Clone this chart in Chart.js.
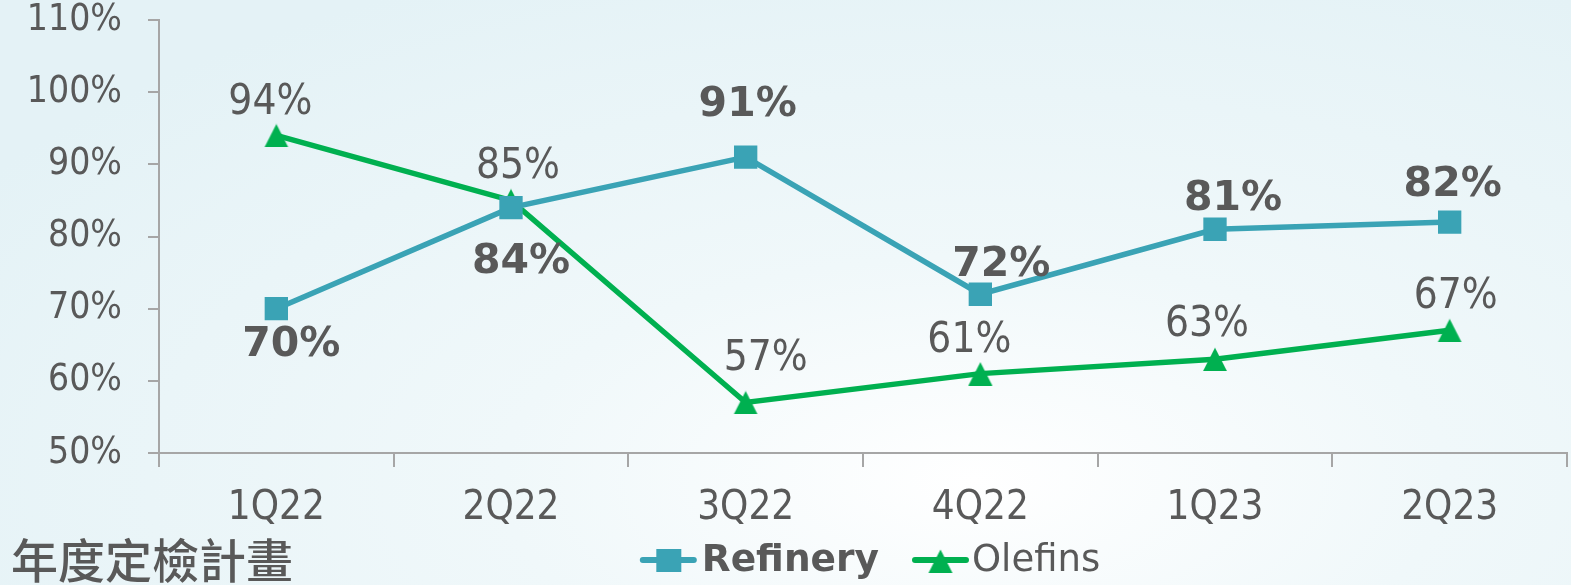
<!DOCTYPE html>
<html>
<head>
<meta charset="utf-8">
<script src="https://cdn.jsdelivr.net/npm/chart.js@4/dist/chart.umd.min.js"></script>
<style>
  html, body { margin: 0; padding: 0; }
  body {
    width: 1571px; height: 585px; overflow: hidden;
    background: radial-gradient(ellipse 75% 95% at 62% 82%, #ffffff 0%, #f0f8fa 40%, #e4f2f6 100%);
  }
  #wrap { position: relative; width: 1571px; height: 585px; }
</style>
</head>
<body>
<div id="wrap"><canvas id="grafica"></canvas></div>
<script>
//Datos
const categorias = ["1Q22", "2Q22", "3Q22", "4Q22", "1Q23", "2Q23"];
const refinery = [70, 84, 91, 72, 81, 82];
const olefins = [94, 85, 57, 61, 63, 67];
const ticksY = [50, 60, 70, 80, 90, 100, 110];

const colorTexto = "#595959";
const colorGris = "#a6a6a6";
const colorRefinery = "#3aa3b5";
const colorOlefins = "#00b050";
const fuente = "'DejaVu Sans Condensed', 'DejaVu Sans', sans-serif";

//Desplazamiento de etiquetas (px) respecto al punto
const etiquetasRefinery = { dx: [15, 10, 2, 21, 18, 3], dy: [37, 55, -52, -29, -30, -37] };
const etiquetasOlefins = { dx: [-6, 7, 20, -11, -8, 6], dy: [-32, -33, -43, -33, -34, -33] };

//Marcador triangulo (centrado como en Excel)
const triangulo = document.createElement("canvas");
triangulo.width = 26;
triangulo.height = 24;
const tctx = triangulo.getContext("2d");
tctx.fillStyle = colorOlefins;
tctx.beginPath();
tctx.moveTo(13, 0.5);
tctx.lineTo(25, 24);
tctx.lineTo(1, 24);
tctx.closePath();
tctx.fill();

//Plugin etiquetas de datos + leyenda + titulo
const pluginEtiquetas = {
  id: "etiquetas",
  afterDatasetsDraw(chart) {
    const ctx = chart.ctx;
    ctx.save();
    ctx.textAlign = "center";
    ctx.textBaseline = "middle";
    ctx.fillStyle = colorTexto;
    chart.data.datasets.forEach((ds, i) => {
      const meta = chart.getDatasetMeta(i);
      const off = ds.etiquetas;
      ctx.font = ds.negrita ? "bold 41px 'DejaVu Sans', sans-serif" : "42px " + fuente;
      meta.data.forEach((p, j) => {
        ctx.fillText(ds.data[j] + "%", p.x + off.dx[j], p.y + off.dy[j]);
      });
    });
    ctx.restore();
  },
  afterDraw(chart) {
    const ctx = chart.ctx;
    const area = chart.chartArea;
    ctx.save();
    //Titulo
    ctx.fillStyle = colorTexto;
    ctx.textBaseline = "middle";
    ctx.textAlign = "left";
    ctx.font = "500 47px 'Noto Sans CJK TC', sans-serif";
    ctx.fillText("年度定檢計畫", 11, 560);

    //Leyenda
    const y = 560;
    const simbolo = 57;
    const fuenteRef = "bold 37.5px 'DejaVu Sans', sans-serif";
    const fuenteOle = "37px 'DejaVu Sans', sans-serif";
    ctx.font = fuenteRef;
    const w1 = ctx.measureText("Refinery").width;
    ctx.font = fuenteOle;
    const w2 = ctx.measureText("Olefins").width;
    const total = simbolo + 5 + w1 + 33 + simbolo + 3 + w2;
    let x = (area.left + area.right) / 2 + 7 - total / 2;

    ctx.lineCap = "round";
    ctx.lineWidth = 6;
    ctx.strokeStyle = colorRefinery;
    ctx.beginPath(); ctx.moveTo(x + 3, y); ctx.lineTo(x + simbolo - 3, y); ctx.stroke();
    ctx.fillStyle = colorRefinery;
    ctx.fillRect(x + simbolo / 2 - 12, y - 11, 25, 23);
    x += simbolo + 5;
    ctx.fillStyle = colorTexto;
    ctx.font = fuenteRef;
    ctx.fillText("Refinery", x, y + 1);
    x += w1 + 33;

    ctx.strokeStyle = colorOlefins;
    ctx.beginPath(); ctx.moveTo(x + 3, y); ctx.lineTo(x + simbolo - 3, y); ctx.stroke();
    ctx.drawImage(triangulo, x + simbolo / 2 - 13, y - 11);
    x += simbolo + 3;
    ctx.fillStyle = colorTexto;
    ctx.font = fuenteOle;
    ctx.fillText("Olefins", x, y + 1);
    ctx.restore();
  }
};

const grafica = document.getElementById("grafica");

new Chart(grafica, {
  type: "line",
  data: {
    labels: categorias,
    datasets: [
      {
        label: "Refinery",
        data: refinery,
        borderColor: colorRefinery,
        backgroundColor: colorRefinery,
        borderWidth: 5.5,
        pointStyle: "rect",
        pointRadius: 16.5,
        pointHoverRadius: 16.5,
        pointBorderWidth: 0,
        tension: 0,
        negrita: true,
        etiquetas: etiquetasRefinery,
      },
      {
        label: "Olefins",
        data: olefins,
        borderColor: colorOlefins,
        backgroundColor: colorOlefins,
        borderWidth: 5.5,
        pointStyle: triangulo,
        pointRadius: 13,
        pointHoverRadius: 13,
        pointBorderWidth: 0,
        tension: 0,
        negrita: false,
        etiquetas: etiquetasOlefins,
      },
    ],
  },
  options: {
    responsive: true,
    maintainAspectRatio: false,
    animation: false,
    events: [],
    layout: { autoPadding: false, padding: { top: 20, right: 4, left: 0, bottom: 0 } },
    plugins: {
      legend: { display: false },
      tooltip: { enabled: false },
    },
    scales: {
      x: {
        offset: true,
        afterFit: (s) => { s.height = 132; s.paddingLeft = 0; s.paddingRight = 0; },
        grid: { display: true, drawOnChartArea: false, offset: true, color: colorGris, lineWidth: 2, tickLength: 14 },
        border: { color: colorGris, width: 2 },
        ticks: { color: colorTexto, font: { family: fuente, size: 40 }, padding: 18, maxRotation: 0 },
      },
      y: {
        min: ticksY[0],
        max: ticksY[ticksY.length - 1],
        afterFit: (s) => { s.width = 159; s.paddingTop = 0; s.paddingBottom = 0; },
        afterBuildTicks: (s) => { s.ticks = ticksY.map((v) => ({ value: v })); },
        grid: { display: true, drawOnChartArea: false, color: colorGris, lineWidth: 2, tickLength: 11 },
        border: { color: colorGris, width: 2 },
        ticks: { color: colorTexto, font: { family: fuente, size: 37 }, padding: 26, callback: (v) => v + "%" },
      },
    },
  },
  plugins: [pluginEtiquetas],
});
</script>
</body>
</html>
